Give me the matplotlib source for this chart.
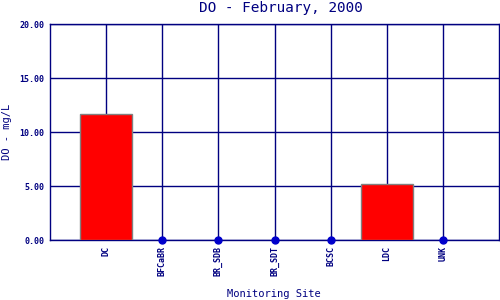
import matplotlib
matplotlib.use("Agg")
import matplotlib.pyplot as plt
import numpy as np

sites = ["DC", "BFCaBR", "BR_SDB", "BR_SDT", "BCSC", "LDC", "UNK"]
do_values = [11.65, 0.0, 0.0, 0.0, 0.0, 5.2, 0.0]

navy = "#000080"
plt.rcParams["font.family"] = ["DejaVu Sans Mono"]

fig = plt.figure(figsize=(5, 3), dpi=100)
ax = fig.add_axes([0.1, 0.2, 0.898, 0.72])

x = np.arange(1, len(sites) + 1)
vals = np.array(do_values)
ax.bar(x[vals > 0], vals[vals > 0], width=0.93, color="#ff0000",
       edgecolor="#808080", linewidth=1, zorder=3)
ax.plot(x[vals == 0], vals[vals == 0], "o", color="#0000cc",
        markersize=5, zorder=4, clip_on=False)

ax.set_xlim(0, len(sites) + 1)
ax.set_ylim(0, 20)
ax.set_xticks(x)
ax.set_xticklabels(sites, rotation=90, fontsize=6, color=navy, weight="bold")
ax.set_yticks([0, 5, 10, 15, 20])
ax.set_yticklabels([f"{v:.2f}" for v in [0, 5, 10, 15, 20]], fontsize=6,
                   color=navy, weight="bold")
ax.tick_params(length=0, pad=4)
ax.grid(True, color=navy, linewidth=1, zorder=1)
for s in ax.spines.values():
    s.set_color(navy)
    s.set_linewidth(1)

fig.text(0.561, 0.972, "DO - February, 2000", fontsize=10.4, color=navy,
         ha="center", va="center")
fig.text(0.014, 0.56, "DO - mg/L", rotation=90, fontsize=7.5, color=navy,
         ha="center", va="center")
fig.text(0.548, 0.02, "Monitoring Site", fontsize=7.5, color=navy,
         ha="center", va="center")

fig.savefig("out.png", dpi=100)
